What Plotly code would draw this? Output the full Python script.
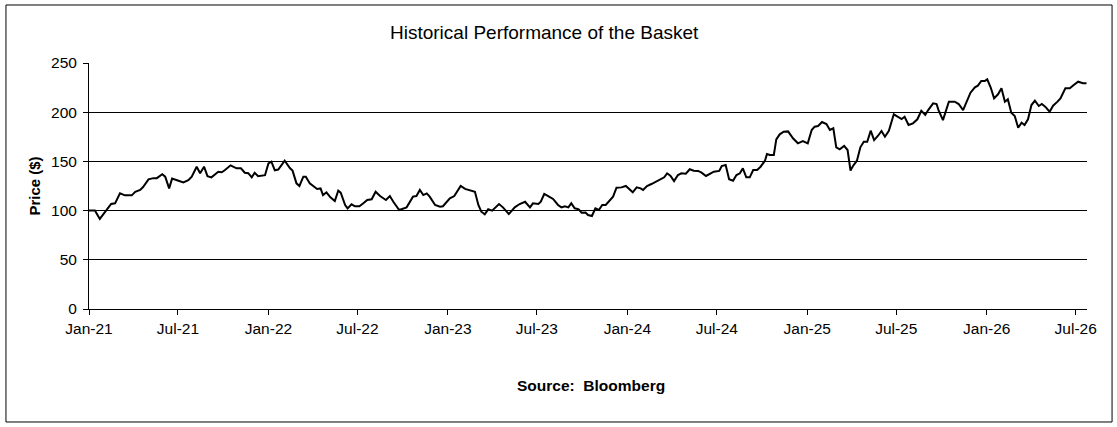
import plotly.graph_objects as go

# basket level (start = 100)
dates = [
    "2021-01-01", "2021-01-13", "2021-01-23", "2021-02-03", "2021-02-15", "2021-02-23",
    "2021-03-05", "2021-03-15", "2021-03-29", "2021-04-05", "2021-04-15", "2021-04-21",
    "2021-05-02", "2021-05-12", "2021-05-19", "2021-05-30", "2021-06-05", "2021-06-13",
    "2021-06-19", "2021-07-02", "2021-07-12", "2021-07-22", "2021-07-29", "2021-08-08",
    "2021-08-15", "2021-08-23", "2021-08-30", "2021-09-07", "2021-09-21", "2021-09-28",
    "2021-10-04", "2021-10-16", "2021-10-28", "2021-11-06", "2021-11-14", "2021-11-21",
    "2021-11-28", "2021-12-04", "2021-12-11", "2021-12-25",
    "2022-01-01", "2022-01-07", "2022-01-14", "2022-01-21", "2022-02-03", "2022-02-14",
    "2022-02-19", "2022-02-27", "2022-03-05", "2022-03-13", "2022-03-18", "2022-03-26",
    "2022-04-04", "2022-04-10", "2022-04-17", "2022-04-22", "2022-04-29", "2022-05-07",
    "2022-05-16", "2022-05-23", "2022-05-28", "2022-06-06", "2022-06-11", "2022-06-19",
    "2022-06-26", "2022-07-05", "2022-07-13", "2022-07-21", "2022-07-30", "2022-08-07",
    "2022-08-16", "2022-08-28", "2022-09-05", "2022-09-12", "2022-09-24", "2022-10-02",
    "2022-10-09", "2022-10-22", "2022-10-29", "2022-11-05", "2022-11-12", "2022-11-19",
    "2022-11-25", "2022-12-06", "2022-12-16", "2022-12-22",
    "2023-01-05", "2023-01-14", "2023-01-27", "2023-02-05", "2023-02-15", "2023-02-25",
    "2023-03-04", "2023-03-10", "2023-03-17", "2023-03-24", "2023-04-01", "2023-04-15",
    "2023-04-23", "2023-05-05", "2023-05-17", "2023-05-27", "2023-06-07", "2023-06-17",
    "2023-06-23", "2023-07-04", "2023-07-09", "2023-07-16", "2023-07-24", "2023-08-03",
    "2023-08-13", "2023-08-20", "2023-08-27", "2023-09-03", "2023-09-09", "2023-09-16",
    "2023-09-24", "2023-09-30", "2023-10-08", "2023-10-13", "2023-10-21", "2023-10-28",
    "2023-11-04", "2023-11-11", "2023-11-18", "2023-11-26", "2023-12-03", "2023-12-10",
    "2023-12-20", "2023-12-29",
    "2024-01-05", "2024-01-12", "2024-01-20", "2024-01-28", "2024-02-02", "2024-02-10",
    "2024-02-19", "2024-02-29", "2024-03-11", "2024-03-16", "2024-03-22", "2024-03-29",
    "2024-04-05", "2024-04-13", "2024-04-20", "2024-04-29", "2024-05-07", "2024-05-15",
    "2024-05-24", "2024-05-31", "2024-06-09", "2024-06-17", "2024-06-25", "2024-07-06",
    "2024-07-11", "2024-07-19", "2024-07-26", "2024-08-03", "2024-08-10", "2024-08-17",
    "2024-08-23", "2024-08-30", "2024-09-06", "2024-09-13", "2024-09-21", "2024-09-28",
    "2024-10-07", "2024-10-11", "2024-10-17", "2024-10-25", "2024-10-30", "2024-11-06",
    "2024-11-14", "2024-11-23", "2024-12-03", "2024-12-13", "2024-12-23",
    "2025-01-02", "2025-01-10", "2025-01-16", "2025-01-23", "2025-01-31", "2025-02-09",
    "2025-02-16", "2025-02-23", "2025-03-01", "2025-03-08", "2025-03-17", "2025-03-24",
    "2025-03-30", "2025-04-04", "2025-04-12", "2025-04-19", "2025-04-26", "2025-05-03",
    "2025-05-10", "2025-05-17", "2025-05-25", "2025-06-01", "2025-06-08", "2025-06-16",
    "2025-06-26", "2025-07-05", "2025-07-12", "2025-07-18", "2025-07-26", "2025-08-04",
    "2025-08-13", "2025-08-21", "2025-08-29", "2025-09-04", "2025-09-14", "2025-09-21",
    "2025-09-25", "2025-10-04", "2025-10-16", "2025-10-28", "2025-11-05", "2025-11-14",
    "2025-11-21", "2025-11-29", "2025-12-08", "2025-12-14", "2025-12-21", "2025-12-28",
    "2026-01-02", "2026-01-09", "2026-01-16", "2026-01-24", "2026-01-31", "2026-02-07",
    "2026-02-13", "2026-02-20", "2026-02-27", "2026-03-06", "2026-03-13", "2026-03-19",
    "2026-03-26", "2026-04-02", "2026-04-09", "2026-04-17", "2026-04-23", "2026-04-30",
    "2026-05-09", "2026-05-16", "2026-05-25", "2026-05-31", "2026-06-10", "2026-06-19",
    "2026-06-27", "2026-07-06", "2026-07-16", "2026-07-23",
]

prices = [
    100, 100, 91.5, 99, 106.7, 107.4,
    117.5, 115.5, 115.5, 119, 121, 124,
    131.8, 133, 133, 137, 134.5, 122.6,
    132.5, 130.4, 128.7, 131, 134.5, 144.6,
    137.9, 144.6, 135, 133.8, 139.5, 139,
    141, 146, 143, 143, 138.5, 138,
    133.8, 138.5, 135, 136,
    148, 149.7, 141, 141.7, 150.7, 143,
    140.6, 127.7, 125, 134.5, 134.5, 127.7,
    124, 122, 122.5, 115.8, 118.6, 113.5,
    109.8, 120.2, 118.2, 105.7, 102.3, 106.4,
    104.3, 104.3, 107.4, 110.8, 111.5, 119.2,
    114.8, 110.8, 114.8, 109, 100.6, 102.3,
    103.3, 114.2, 114.8, 121, 115.8, 117.5,
    114.2, 105.7, 104, 104.4,
    112.5, 114.8, 125, 122, 120.3, 119.2,
    105.7, 98.9, 96.2, 101.3, 99.9, 106.7,
    103.3, 96.5, 103.3, 106.7, 109, 103.3,
    107.4, 106.7, 109, 116.9, 114.8, 111.8,
    105.7, 103.3, 104.4, 103.3, 107.4, 102.3,
    101.3, 97.9, 98, 95.5, 94.5, 102.3,
    100.6, 105.7, 105.7, 110.8, 114.2, 123.3,
    123.6, 125,
    121.6, 118.6, 123.7, 122.6, 121, 125,
    127, 129.4, 131.8, 133.8, 137.9, 135.2,
    130, 136.2, 137.9, 137.5, 142, 140.6,
    140.3, 138.5, 135.2, 137.2, 139.5, 140.3,
    145.3, 146.3, 131.8, 130.4, 136.2, 137.9,
    143, 133.8, 133.8, 141.3, 141.3, 144.6,
    150.7, 157.5, 156.5, 156.5, 172.4, 177.5,
    180.2, 180.5, 173.5, 168.4, 170.7,
    168.4, 181.9, 185.3, 186, 190, 188,
    181.9, 183.6, 164.3, 162.3, 165.7, 161.6,
    140.6, 145.3, 150.7, 164.3, 170, 170,
    181.2, 171.7, 176.1, 180.9, 175.1, 181.2,
    197.9, 195.4, 193.1, 195.4, 187, 188.7,
    192.8, 201.5, 197.2, 202.2, 209, 208.3,
    202.2, 192, 210.7, 210.7, 208.3, 202.2,
    210.7, 219.8, 225.3, 227, 231.7, 231.7,
    233.4, 225.3, 214.1, 218.2, 224.3, 210.7,
    213.1, 199.5, 196.1, 184.2, 189.3, 187,
    192.8, 207.3, 211.7, 206.3, 208.3, 205.6,
    200.5, 206.6, 210.7, 214.1, 224.3, 224.3,
    227.6, 231, 229.4, 229.4,
]

y_ticks = [0, 50, 100, 150, 200, 250]

FONT = "Arial, Liberation Sans, sans-serif"

fig = go.Figure()
fig.add_trace(go.Scatter(
    x=dates, y=prices, mode="lines",
    line=dict(color="black", width=2),
    hoverinfo="x+y", showlegend=False,
))

fig.update_layout(
    width=1117, height=427,
    margin=dict(l=89, r=30, t=63, b=118),
    paper_bgcolor="white", plot_bgcolor="white",
    font=dict(family=FONT, size=15.5, color="black"),
    showlegend=False,
)

fig.update_xaxes(
    type="date",
    range=["2021-01-01", "2026-07-24"],
    tick0="2021-01-01", dtick="M6", tickformat="%b-%y",
    ticks="outside", ticklen=5, tickcolor="black", tickwidth=1,
    showline=True, linecolor="black", linewidth=1,
    showgrid=False, zeroline=False,
    tickfont=dict(size=15.5),
)

fig.update_yaxes(
    range=[0, 250], tickvals=y_ticks,
    ticks="outside", ticklen=5, tickcolor="black", tickwidth=1,
    showline=True, linecolor="black", linewidth=1,
    showgrid=True, gridcolor="black", gridwidth=1,
    zeroline=False, ticklabelstandoff=3,
    tickfont=dict(size=15.5),
    title=dict(text="<b>Price ($)</b>", font=dict(size=15), standoff=6),
)

# outer frame round the whole chart
fig.add_shape(type="rect", xref="paper", yref="paper",
              x0=-0.0832, x1=1.0251, y0=-0.4593, y1=1.2358,
              line=dict(color="black", width=1), layer="below")

fig.add_annotation(text="Historical Performance of the Basket",
                   xref="paper", yref="paper", x=0.4564, y=1.126,
                   showarrow=False, font=dict(size=19),
                   xanchor="center", yanchor="middle")

fig.add_annotation(text="<b>Source:\u00a0 Bloomberg</b>",
                   xref="paper", yref="paper", x=0.503, y=-0.31,
                   showarrow=False, font=dict(size=15.5),
                   xanchor="center", yanchor="middle")

# the page is photographed at the figure's own size, so drop the body margin
fig.write_html("out.html", config={"displayModeBar": False},
               post_script="document.body.style.margin='0';")
